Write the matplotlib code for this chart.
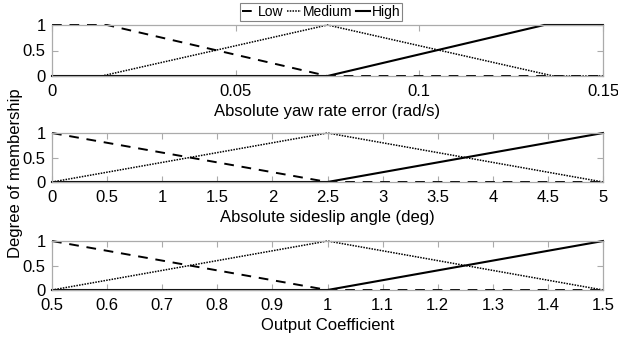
import matplotlib
matplotlib.use("Agg")
import matplotlib.pyplot as plt
import numpy as np

plt.rcParams["font.family"] = ["Liberation Sans", "DejaVu Sans"]

# Membership function breakpoints (x, degree) for each input/output variable
yaw_low_x = [0, 0.015, 0.075, 0.15]
yaw_low_y = [1, 1, 0, 0]
yaw_med_x = [0, 0.0135, 0.075, 0.1365, 0.15]
yaw_med_y = [0, 0, 1, 0, 0]
yaw_high_x = [0, 0.075, 0.134, 0.15]
yaw_high_y = [0, 0, 1, 1]

slip_low_x = [0, 2.5, 5]
slip_low_y = [1, 0, 0]
slip_med_x = [0, 2.5, 5]
slip_med_y = [0, 1, 0]
slip_high_x = [0, 2.5, 5]
slip_high_y = [0, 0, 1]

out_low_x = [0.5, 1.0, 1.5]
out_low_y = [1, 0, 0]
out_med_x = [0.5, 1.0, 1.5]
out_med_y = [0, 1, 0]
out_high_x = [0.5, 1.0, 1.5]
out_high_y = [0, 0, 1]

yaw_ticks = [0, 0.05, 0.1, 0.15]
yaw_ticklabels = ["0", "0.05", "0.1", "0.15"]
slip_ticks = [0, 0.5, 1, 1.5, 2, 2.5, 3, 3.5, 4, 4.5, 5]
slip_ticklabels = ["0", "0.5", "1", "1.5", "2", "2.5", "3", "3.5", "4", "4.5", "5"]
out_ticks = [0.5, 0.6, 0.7, 0.8, 0.9, 1.0, 1.1, 1.2, 1.3, 1.4, 1.5]
out_ticklabels = ["0.5", "0.6", "0.7", "0.8", "0.9", "1", "1.1", "1.2", "1.3", "1.4", "1.5"]

y_ticks = [0, 0.5, 1]
y_ticklabels = ["0", "0.5", "1"]

panels = [
    (yaw_low_x, yaw_low_y, yaw_med_x, yaw_med_y, yaw_high_x, yaw_high_y,
     (0, 0.15), yaw_ticks, yaw_ticklabels, "Absolute yaw rate error (rad/s)"),
    (slip_low_x, slip_low_y, slip_med_x, slip_med_y, slip_high_x, slip_high_y,
     (0, 5), slip_ticks, slip_ticklabels, "Absolute sideslip angle (deg)"),
    (out_low_x, out_low_y, out_med_x, out_med_y, out_high_x, out_high_y,
     (0.5, 1.5), out_ticks, out_ticklabels, "Output Coefficient"),
]

W, H = 618, 339
fig = plt.figure(figsize=(W / 100, H / 100), dpi=100)

boxes = [(52, 25, 603, 76), (52, 133, 603, 182), (52, 241, 603, 290)]
axes = []
spine_col = "#ababab"
for (l, t, r, b), p in zip(boxes, panels):
    ax = fig.add_axes([l / W, 1 - b / H, (r - l) / W, (b - t) / H])
    lx, ly, mx, my, hx, hy, xlim, xt, xtl, xlabel = p
    h1, = ax.plot(lx, ly, color="black", linestyle=(0, (5, 4)), lw=1.4, label="Low")
    h2, = ax.plot(mx, my, color="black", linestyle=(0, (1, 0.8)), lw=1.1, label="Medium")
    h3, = ax.plot(hx, hy, color="black", linestyle="-", lw=1.5, label="High")
    for ln in (h1, h2, h3):
        ln.set_clip_on(False)
    ax.set_xlim(*xlim)
    ax.set_ylim(0, 1)
    ax.set_xticks(xt)
    ax.set_xticklabels(xtl)
    ax.set_yticks(y_ticks)
    ax.set_yticklabels(y_ticklabels)
    ax.tick_params(direction="in", length=4, width=0.8, color=spine_col,
                   top=True, right=True, labelsize=12)
    ax.tick_params(axis="x", pad=5.5)
    ax.tick_params(axis="y", pad=4.5)
    for s in ax.spines.values():
        s.set_color(spine_col)
        s.set_linewidth(0.9)
    ax.set_xlabel(xlabel, fontsize=12, labelpad=4)
    axes.append((ax, (h1, h2, h3)))

handles = axes[0][1]
leg = fig.legend(handles, ["Low", "Medium", "High"], loc="upper center",
                 bbox_to_anchor=(321 / W, 1 - 3 / H), ncol=3, fontsize=10,
                 handlelength=1.0, handletextpad=0.15, columnspacing=0.25,
                 borderpad=0.15, frameon=True, fancybox=False,
                 borderaxespad=0)
leg.get_frame().set_edgecolor("#666666")
leg.get_frame().set_linewidth(0.8)

fig.text(16 / W, 1 - 173 / H, "Degree of membership", rotation=90,
         ha="center", va="center", fontsize=12)

fig.savefig("out.png", dpi=100)
